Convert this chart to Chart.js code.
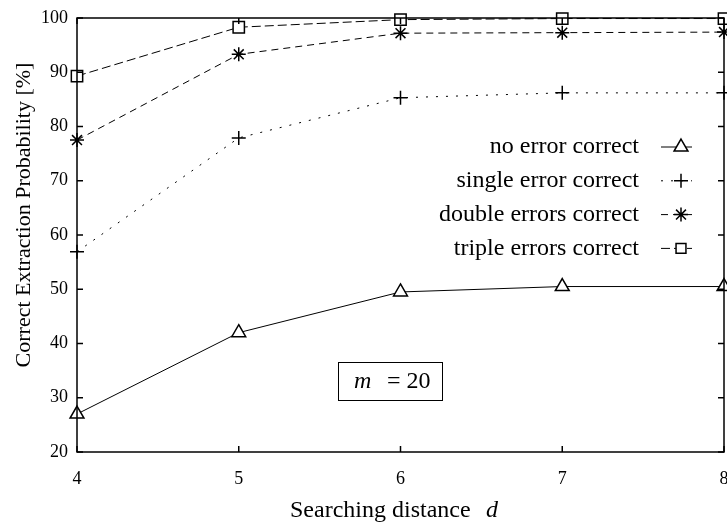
<!DOCTYPE html>
<html>
<head>
<meta charset="utf-8">
<script src="https://cdn.jsdelivr.net/npm/chart.js@4.4.1/dist/chart.umd.min.js"></script>
<style>
  html, body { margin: 0; padding: 0; background: #fff; overflow: hidden; }
  #wrap { width: 727px; height: 525px; }
</style>
</head>
<body>
<div id="wrap"><canvas id="chart"></canvas></div>
<script>
var distances = [4, 5, 6, 7, 8];
var yTicks = [20, 30, 40, 50, 60, 70, 80, 90, 100];
var noError = [27.0, 42.0, 49.5, 50.5, 50.5];
var singleError = [56.9, 77.9, 85.3, 86.2, 86.2];
var doubleErrors = [77.5, 93.3, 97.2, 97.3, 97.4];
var tripleErrors = [89.3, 98.3, 99.7, 99.9, 99.9];
var seriesNames = ['no error correct', 'single error correct', 'double errors correct', 'triple errors correct'];

var FONT = '"Liberation Serif", "Times New Roman", serif';

function toPoints(values) {
  return values.map(function(v, i) { return { x: distances[i], y: v }; });
}

var styles = [
  { dash: [], marker: 'triangle', radius: 8, legendRadius: 8 },
  { dash: [2, 8], marker: 'cross', radius: 7, legendRadius: 7 },
  { dash: [7, 5], marker: 'star', radius: 7, legendRadius: 7 },
  { dash: [9, 4], marker: 'rect', radius: 8, legendRadius: 7 }
];
var seriesValues = [noError, singleError, doubleErrors, tripleErrors];

var datasets = seriesValues.map(function(vals, i) {
  var s = styles[i];
  return {
    label: seriesNames[i],
    data: toPoints(vals),
    borderColor: '#000',
    borderWidth: 1,
    borderDash: s.dash,
    pointStyle: s.marker,
    pointRadius: s.radius,
    pointBorderWidth: 1.5,
    pointBorderColor: '#000',
    pointBackgroundColor: '#fff',
    tension: 0,
    fill: false,
    clip: false
  };
});

// frame, inward ticks on all sides, titles, legend, annotation box
var decorations = {
  id: 'decorations',
  afterDraw: function(chart) {
    var ctx = chart.ctx;
    var a = chart.chartArea;
    var xs = chart.scales.x, ys = chart.scales.y;
    var t = 6;
    ctx.save();
    ctx.strokeStyle = '#000';
    ctx.lineWidth = 1.5;
    ctx.setLineDash([]);
    ctx.strokeRect(a.left, a.top, a.right - a.left, a.bottom - a.top);
    ctx.beginPath();
    distances.forEach(function(d) {
      var px = xs.getPixelForValue(d);
      ctx.moveTo(px, a.bottom); ctx.lineTo(px, a.bottom - t);
      ctx.moveTo(px, a.top); ctx.lineTo(px, a.top + t);
    });
    yTicks.forEach(function(v) {
      var py = ys.getPixelForValue(v);
      ctx.moveTo(a.left, py); ctx.lineTo(a.left + t, py);
      ctx.moveTo(a.right, py); ctx.lineTo(a.right - t, py);
    });
    ctx.stroke();

    // axis titles
    ctx.fillStyle = '#000';
    ctx.textBaseline = 'middle';
    ctx.font = '24px ' + FONT;
    ctx.textAlign = 'left';
    ctx.fillText('Searching distance', 290, 511);
    ctx.font = 'italic 24px ' + FONT;
    ctx.fillText('d', 486, 511);

    ctx.save();
    ctx.translate(24, 215);
    ctx.rotate(-Math.PI / 2);
    ctx.textAlign = 'center';
    ctx.font = '22px ' + FONT;
    ctx.fillText('Correct Extraction Probability [%]', 0, 0);
    ctx.restore();

    // legend
    var rowY = 147, rowGap = 33.8;
    seriesNames.forEach(function(name, i) {
      var y = rowY + i * rowGap;
      var s = styles[i];
      ctx.font = '24px ' + FONT;
      ctx.textAlign = 'right';
      ctx.fillStyle = '#000';
      ctx.fillText(name, 639, y);
      ctx.lineWidth = 1;
      ctx.setLineDash(s.dash);
      ctx.beginPath();
      ctx.moveTo(661, y); ctx.lineTo(692, y);
      ctx.stroke();
      ctx.setLineDash([]);
      ctx.lineWidth = 1.5;
      ctx.fillStyle = '#fff';
      Chart.helpers.drawPoint(ctx, { pointStyle: s.marker, radius: s.legendRadius, borderWidth: 1.5 }, 681, y);
    });

    // annotation box
    ctx.setLineDash([]);
    ctx.lineWidth = 1;
    ctx.strokeRect(338.5, 362.5, 104, 38);
    ctx.fillStyle = '#000';
    ctx.textAlign = 'left';
    ctx.font = 'italic 24px ' + FONT;
    ctx.fillText('m', 354, 382);
    ctx.font = '24px ' + FONT;
    ctx.fillText('= 20', 387, 382);
    ctx.restore();
  }
};

new Chart(document.getElementById('chart').getContext('2d'), {
  type: 'line',
  data: { datasets: datasets },
  options: {
    responsive: true,
    maintainAspectRatio: false,
    animation: false,
    events: [],
    layout: { autoPadding: false, padding: { top: 18, right: 3, left: 0, bottom: 0 } },
    plugins: { legend: { display: false }, tooltip: { enabled: false } },
    scales: {
      x: {
        type: 'linear', min: 4, max: 8,
        grid: { display: false, drawTicks: false },
        border: { display: false },
        afterFit: function(scale) { scale.height = 73; scale.paddingLeft = 0; scale.paddingRight = 0; },
        ticks: {
          stepSize: 1, padding: 16, color: '#000',
          font: { family: FONT, size: 18 }
        }
      },
      y: {
        type: 'linear', min: 20, max: 100,
        grid: { display: false, drawTicks: false },
        border: { display: false },
        afterFit: function(scale) { scale.width = 77; scale.paddingTop = 0; scale.paddingBottom = 0; },
        ticks: {
          stepSize: 10, padding: 9, color: '#000',
          font: { family: FONT, size: 18 }
        }
      }
    }
  },
  plugins: [decorations]
});
</script>
</body>
</html>
